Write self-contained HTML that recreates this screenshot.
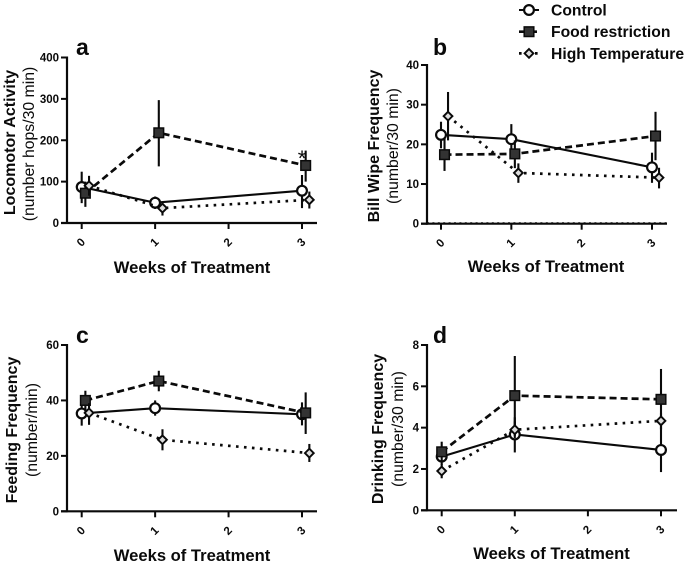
<!DOCTYPE html>
<html lang="en">
<head>
<meta charset="utf-8">
<title>Behaviour across weeks of treatment</title>
<style>
html,body{margin:0;padding:0;background:#fff;width:685px;height:567px;overflow:hidden}
svg{display:block;filter:blur(0.3px)}
text{font-family:"Liberation Sans",sans-serif;fill:#0a0a0a}
</style>
</head>
<body>
<svg id="chart" width="685" height="567" viewBox="0 0 685 567" xmlns="http://www.w3.org/2000/svg"></svg>
<script>
const weeks = [0, 1, 3];
const xTickLabels = [0, 1, 2, 3];
const seriesNames = ['Control', 'Food restriction', 'High Temperature'];

const aYTicks = [0, 100, 200, 300, 400];
const aControl = [87, 49, 78];
const aControlHigh = [124, 64, 116];
const aControlLow = [48, 34, 36];
const aFood = [72, 218, 139];
const aFoodHigh = [100, 297, 175];
const aFoodLow = [39, 137, 100];
const aTemp = [90, 36, 56];
const aTempHigh = [114, 50, 76];
const aTempLow = [66, 18, 35];

const bYTicks = [0, 10, 20, 30, 40];
const bControl = [22.4, 21.3, 14.2];
const bControlHigh = [25.7, 25.1, 17.9];
const bControlLow = [19, 17.5, 10.3];
const bFood = [17.4, 17.6, 22.1];
const bFoodHigh = [21.5, 21, 28.2];
const bFoodLow = [13.3, 14, 16];
const bTemp = [27.1, 12.8, 11.6];
const bTempHigh = [33.2, 15.2, 14.1];
const bTempLow = [21, 10.3, 8.9];

const cYTicks = [0, 20, 40, 60];
const cControl = [35.3, 37.2, 35];
const cControlHigh = [39, 40, 39.3];
const cControlLow = [30.9, 34.5, 31];
const cFood = [40, 47, 35.5];
const cFoodHigh = [43.5, 50.7, 42.9];
const cFoodLow = [36, 43.3, 27.9];
const cTemp = [35.5, 25.8, 21];
const cTempHigh = [39, 29.6, 24.3];
const cTempLow = [31.2, 22, 17.8];

const dYTicks = [0, 2, 4, 6, 8];
const dControl = [2.6, 3.67, 2.92];
const dControlHigh = [3, 4.5, 4];
const dControlLow = [2.2, 2.8, 1.85];
const dFood = [2.83, 5.55, 5.37];
const dFoodHigh = [3.32, 7.47, 6.84];
const dFoodLow = [2.4, 3.6, 3.9];
const dTemp = [1.9, 3.9, 4.33];
const dTempHigh = [2.25, 4.3, 4.7];
const dTempLow = [1.55, 3.5, 3.95];

const NS = 'http://www.w3.org/2000/svg';
const root = document.getElementById('chart');

function make(tag, parent) {
  const el = document.createElementNS(NS, tag);
  parent.appendChild(el);
  return el;
}
function setAll(el, props) {
  Object.keys(props).forEach(function (k) { el.setAttribute(k, props[k]); });
  return el;
}
function drawLine(parent, x1, y1, x2, y2, w) {
  const l = make('line', parent);
  setAll(l, { x1: x1, y1: y1, x2: x2, y2: y2, stroke: '#0a0a0a', 'stroke-width': w });
  return l;
}
function drawLabel(parent, str, x, y, size, weight, anchor, rot) {
  const t = make('text', parent);
  t.textContent = str;
  setAll(t, { x: x, y: y, 'font-size': size, 'font-weight': weight, 'text-anchor': anchor });
  if (rot) t.setAttribute('transform', 'rotate(' + rot + ' ' + x + ' ' + y + ')');
  return t;
}
function drawMarker(parent, kind, x, y) {
  let m;
  if (kind === 0) {
    m = make('circle', parent);
    setAll(m, { cx: x, cy: y, r: 4.9, fill: '#fff', stroke: '#0a0a0a', 'stroke-width': 2.2 });
  } else if (kind === 1) {
    m = make('rect', parent);
    setAll(m, { x: x - 4.8, y: y - 4.8, width: 9.6, height: 9.6, fill: '#333', stroke: '#0a0a0a', 'stroke-width': 1.5 });
  } else {
    m = make('path', parent);
    const s = 4.4;
    setAll(m, { d: 'M' + x + ' ' + (y - s) + 'L' + (x + s) + ' ' + y + 'L' + x + ' ' + (y + s) + 'L' + (x - s) + ' ' + y + 'Z', fill: '#ddd', stroke: '#0a0a0a', 'stroke-width': 1.9 });
  }
  return m;
}
const dashes = ['', '7 4', '2.6 5.4'];
const lineWidths = [2.1, 2.7, 2.7];

function drawPanel(cfg) {
  const g = make('g', root);
  
  
  const xScale = function (w) { return cfg.x0 + (cfg.x3 - cfg.x0) * w / 3; };
  const yMax = cfg.yTicks[cfg.yTicks.length - 1];
  const yScale = function (v) { return cfg.bottom - (cfg.bottom - cfg.top) * v / yMax; };

  const yAxis = drawLine(g, cfg.axisX, cfg.top - 1, cfg.axisX, cfg.bottom + 1, 2.2);
  
  
  const xAxis = drawLine(g, cfg.axisX - 6, cfg.bottom, cfg.axisEnd, cfg.bottom, 2.2);
  
  

  if (cfg.dottedBase) {
    const base = drawLine(g, cfg.axisX, cfg.bottom - 1.1, cfg.axisEnd, cfg.bottom - 1.1, 0.7);
    base.setAttribute('stroke-dasharray', '2 3.4');
    
    
  }

  cfg.yTicks.forEach(function (v) {
    const py = yScale(v);
    const tick = drawLine(g, cfg.axisX - 6, py, cfg.axisX, py, 2);
    
    
    const lab = drawLabel(g, String(v), cfg.axisX - 8, py + 4, 11.5, 'bold', 'end');
    
    
  });
  xTickLabels.forEach(function (w) {
    const px = xScale(w);
    const tick = drawLine(g, px, cfg.bottom, px, cfg.bottom + 6, 2);
    
    
    const lab = drawLabel(g, String(w), px + 2, cfg.bottom + 22, 11.5, 'bold', 'middle', -45);
    
    
  });

  cfg.series.forEach(function (s, si) {
    const sg = make('g', g);
    
    
    const px = weeks.map(function (w) { return xScale(w + cfg.offset * si); });
    weeks.forEach(function (w, i) {
      const bar = drawLine(sg, px[i], yScale(s.high[i]), px[i], yScale(s.low[i]), 2.1);
      
      
    });
    const pl = make('polyline', sg);
    
    
    setAll(pl, {
      points: weeks.map(function (w, i) { return px[i] + ',' + yScale(s.mean[i]); }).join(' '),
      fill: 'none', stroke: '#0a0a0a', 'stroke-width': lineWidths[si], 'stroke-dasharray': dashes[si]
    });
    weeks.forEach(function (w, i) {
      const mk = drawMarker(sg, si, px[i], yScale(s.mean[i]));
      
      
    });
  });

  const letter = drawLabel(g, cfg.id, cfg.letterX, cfg.letterY, 23, 'bold', 'start');
  
  
  const t1 = drawLabel(g, cfg.title, cfg.t1x, cfg.t1y, 16, 'bold', 'middle', -90);
  
  
  const t2 = drawLabel(g, cfg.sub, cfg.t2x, cfg.t2y, 15.8, 'normal', 'middle', -90);
  
  
  const xt = drawLabel(g, 'Weeks of Treatment', cfg.xtx, cfg.xty, 16.6, 'bold', 'middle');
  
  
  return g;
}

drawPanel({
  id: 'a', x0: 81.7, x3: 302, axisX: 67, axisEnd: 317, top: 57.5, bottom: 223, offset: 0.05,
  yTicks: aYTicks, letterX: 76, letterY: 55,
  title: 'Locomotor Activity', t1x: 15, t1y: 142.5, sub: '(number hops/30 min)', t2x: 34, t2y: 144, xtx: 192, xty: 273,
  series: [
    { mean: aControl, high: aControlHigh, low: aControlLow },
    { mean: aFood, high: aFoodHigh, low: aFoodLow },
    { mean: aTemp, high: aTempHigh, low: aTempLow }
  ]
});
drawPanel({
  id: 'b', x0: 441, x3: 652, axisX: 427, axisEnd: 667, top: 65, bottom: 223.7, offset: 0.05, dottedBase: true,
  yTicks: bYTicks, letterX: 433, letterY: 55,
  title: 'Bill Wipe Frequency', t1x: 379, t1y: 146, sub: '(number/30 min)', t2x: 398, t2y: 146, xtx: 546, xty: 272,
  series: [
    { mean: bControl, high: bControlHigh, low: bControlLow },
    { mean: bFood, high: bFoodHigh, low: bFoodLow },
    { mean: bTemp, high: bTempHigh, low: bTempLow }
  ]
});
drawPanel({
  id: 'c', x0: 81.7, x3: 302, axisX: 67, axisEnd: 317, top: 345, bottom: 511.3, offset: 0.05,
  yTicks: cYTicks, letterX: 76, letterY: 343,
  title: 'Feeding Frequency', t1x: 17, t1y: 430, sub: '(number/min)', t2x: 37, t2y: 430, xtx: 192, xty: 561,
  series: [
    { mean: cControl, high: cControlHigh, low: cControlLow },
    { mean: cFood, high: cFoodHigh, low: cFoodLow },
    { mean: cTemp, high: cTempHigh, low: cTempLow }
  ]
});
drawPanel({
  id: 'd', x0: 441.7, x3: 661, axisX: 427, axisEnd: 677, top: 345, bottom: 510.3, offset: 0,
  yTicks: dYTicks, letterX: 433, letterY: 343,
  title: 'Drinking Frequency', t1x: 383, t1y: 429, sub: '(number/30 min)', t2x: 403, t2y: 429, xtx: 551.5, xty: 559,
  series: [
    { mean: dControl, high: dControlHigh, low: dControlLow },
    { mean: dFood, high: dFoodHigh, low: dFoodLow },
    { mean: dTemp, high: dTempHigh, low: dTempLow }
  ]
});

const star = drawLabel(root, '*', 302, 166, 22, 'normal', 'middle');



const legend = make('g', root);


seriesNames.forEach(function (name, i) {
  const entry = make('g', legend);
  
  
  const ly = 10 + i * 21.7;
  const sample = drawLine(entry, 519, ly, 539, ly, lineWidths[i]);
  sample.setAttribute('stroke-dasharray', dashes[i]);
  
  
  const mk = drawMarker(entry, i, 529, ly);
  
  
  const lab = drawLabel(entry, name, 551, ly + 5.5, 15.7, 'bold', 'start');
  
  
});
</script>
</body>
</html>
